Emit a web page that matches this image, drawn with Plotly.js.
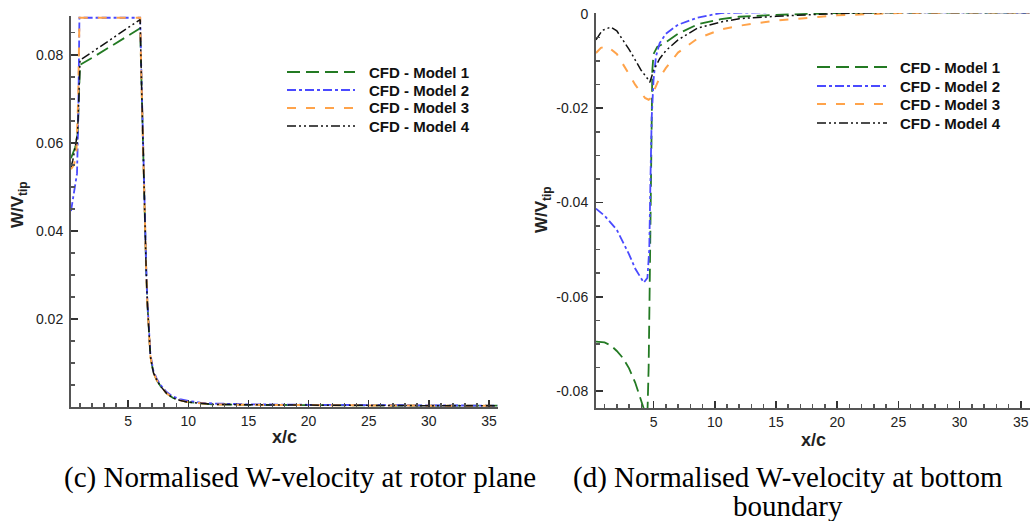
<!DOCTYPE html>
<html><head><meta charset="utf-8">
<script src="https://cdn.plot.ly/plotly-3.0.1.min.js"></script>
<style>html,body{margin:0;padding:0;background:#fff}#chart{width:1030px;height:521px}</style>
</head><body><div id="chart"></div><script>
// ---------- Data: (c) rotor plane ----------
const seriesNames = ["CFD - Model 1", "CFD - Model 2", "CFD - Model 3", "CFD - Model 4"];

const rotX_m1 = [0.25,0.4,0.6,0.8,0.9,1.0,2,3,4,5,6.0,6.1,6.2,6.3,6.4,6.5,6.6,6.7,6.85,7.1,7.4,7.7,8.2,8.7,9.3,10,11,12,15,20,25,30,35.7];
const rotY_m1 = [0.0565,0.0575,0.059,0.062,0.070,0.0777,0.0793,0.0810,0.0826,0.0843,0.0860,0.075,0.062,0.050,0.040,0.031,0.0235,0.0175,0.0115,0.0078,0.0060,0.0047,0.0031,0.0021,0.0015,0.0011,0.0008,0.0006,0.0005,0.0004,0.0004,0.0003,0.0003];

const rotX_m2 = [0.25,0.4,0.6,0.75,0.85,0.95,2,3,4,5,6.0,6.1,6.2,6.3,6.4,6.5,6.6,6.7,6.85,7.1,7.4,7.7,8.2,8.7,9.3,10,11,12,15,20,25,30,35.7];
const rotY_m2 = [0.0445,0.047,0.050,0.053,0.065,0.0884,0.0884,0.0884,0.0884,0.0884,0.0884,0.076,0.063,0.051,0.041,0.032,0.024,0.018,0.012,0.0082,0.0063,0.0050,0.0034,0.0024,0.0018,0.0014,0.0010,0.0008,0.0006,0.0005,0.0004,0.0004,0.0003];

const rotX_m3 = [0.25,0.5,0.7,0.85,0.95,2,3,4,5,6.0,6.1,6.2,6.3,6.4,6.5,6.6,6.7,6.85,7.1,7.4,7.7,8.2,8.7,9.3,10,11,12,15,20,25,30,35.7];
const rotY_m3 = [0.054,0.055,0.058,0.070,0.0884,0.0884,0.0884,0.0884,0.0884,0.0884,0.075,0.062,0.050,0.040,0.031,0.0235,0.0175,0.0115,0.0078,0.0060,0.0047,0.0031,0.0021,0.0015,0.0011,0.0008,0.0006,0.0005,0.0004,0.0004,0.0003,0.0003];

const rotX_m4 = [0.25,0.4,0.6,0.8,0.9,1.0,2,3,4,5,6.0,6.1,6.2,6.3,6.4,6.5,6.6,6.7,6.85,7.1,7.4,7.7,8.2,8.7,9.3,10,11,12,15,20,25,30,35.7];
const rotY_m4 = [0.0545,0.056,0.059,0.0625,0.070,0.0788,0.0806,0.0825,0.0843,0.0862,0.0880,0.075,0.062,0.050,0.040,0.031,0.0235,0.0175,0.0115,0.0078,0.0060,0.0047,0.0031,0.0021,0.0015,0.0011,0.0008,0.0006,0.0005,0.0004,0.0004,0.0003,0.0003];

// ---------- Data: (d) bottom boundary ----------
const botX_m1 = [0.3,1,1.5,2,2.5,3,3.5,4,4.3,4.5,4.6,4.7,4.8,4.9,5.0,5.3,5.6,6,7,8.6,10.5,12,15,20,25,30,35.7];
const botY_m1 = [-0.0695,-0.0697,-0.0703,-0.0715,-0.0730,-0.0752,-0.0782,-0.0822,-0.0845,-0.0850,-0.075,-0.055,-0.030,-0.012,-0.0085,-0.0070,-0.0066,-0.0060,-0.0042,-0.0022,-0.0011,-0.0006,-0.0002,0.0002,0.0003,0.0003,0.0003];

const botX_m2 = [0.3,1,2,3,3.5,4,4.2,4.5,4.65,4.75,4.85,5.0,5.2,5.5,6,7,8.6,10.5,12,15,20,25,30,35.7];
const botY_m2 = [-0.0413,-0.0428,-0.0458,-0.0510,-0.0540,-0.0562,-0.0570,-0.0560,-0.050,-0.035,-0.022,-0.014,-0.009,-0.0062,-0.0042,-0.0023,-0.0008,0.0002,0.0003,0.0004,0.0004,0.0004,0.0003,0.0003];

const botX_m3 = [0.3,0.7,1.2,2,3,3.5,4,4.3,4.6,4.8,5.0,5.5,6,7,8.6,10.5,12,15,20,25,30,35.7];
const botY_m3 = [-0.0083,-0.0072,-0.0068,-0.0085,-0.0128,-0.0150,-0.0168,-0.0178,-0.0182,-0.0178,-0.0165,-0.0135,-0.0115,-0.0082,-0.0052,-0.0033,-0.0025,-0.0014,-0.0003,0.0002,0.0003,0.0003];

const botX_m4 = [0.3,0.8,1.5,2,3,3.5,4,4.5,4.7,5.0,5.5,6,7,8.6,10.5,12,15,20,25,30,35.7];
const botY_m4 = [-0.0055,-0.0035,-0.0028,-0.0036,-0.0075,-0.0098,-0.0120,-0.0137,-0.0145,-0.0120,-0.0095,-0.0078,-0.0055,-0.0030,-0.0017,-0.0010,-0.0005,0.0001,0.0003,0.0003,0.0003];

// ---------- Tick labels ----------
const xTickVals = [5,10,15,20,25,30,35];
const xTickText = ["5","10","15","20","25","30","35"];
const yLeftTickVals = [0.02,0.04,0.06,0.08];
const yLeftTickText = ["0.02","0.04","0.06","0.08"];
const yRightTickVals = [0,-0.02,-0.04,-0.06,-0.08];
const yRightTickText = ["0","-0.02","-0.04","-0.06","-0.08"];

// ---------- Styles ----------
const styles = [
  {color:"#237a23", dash:"13px,6px", width:1.8},
  {color:"#4a4aff", dash:"9px,3px,3px,3px", width:1.8},
  {color:"#ffa34a", dash:"9px,10px", width:2},
  {color:"#111111", dash:"9px,3px,2px,3px,2px,3px", width:1.5}
];

const rotX = [rotX_m1, rotX_m2, rotX_m3, rotX_m4];
const rotY = [rotY_m1, rotY_m2, rotY_m3, rotY_m4];
const botX = [botX_m1, botX_m2, botX_m3, botX_m4];
const botY = [botY_m1, botY_m2, botY_m3, botY_m4];

const traces = [];
for (let i = 0; i < 4; i++) {
  traces.push({x: rotX[i], y: rotY[i], xaxis:"x", yaxis:"y", mode:"lines", name: seriesNames[i], showlegend:false,
    line:{color:styles[i].color, dash:styles[i].dash, width:styles[i].width}});
}
for (let i = 0; i < 4; i++) {
  traces.push({x: botX[i], y: botY[i], xaxis:"x2", yaxis:"y2", mode:"lines", name: seriesNames[i], showlegend:false,
    line:{color:styles[i].color, dash:styles[i].dash, width:styles[i].width}});
}

const W = 1030, H = 521;
const sans = "Liberation Sans, Arial, sans-serif";
const serif = "Liberation Serif, Times New Roman, serif";
const tickFont = {family:sans, size:14, color:"#222"};
const axisBase = {
  showgrid:false, zeroline:false, showline:true, linecolor:"#555", linewidth:2,
  ticks:"inside", ticklen:7, tickwidth:1.5, tickcolor:"#333", tickfont:tickFont,
  mirror:false
};

// Legend keys (drawn as paper-space samples next to the names)
const legendBoxes = [
  {lineX0:287, lineX1:355, textX:367, rows:[72, 90, 108, 126]},
  {lineX0:817, lineX1:887, textX:898, rows:[67, 86, 104, 123]}
];
const shapes = [];
const annotations = [];
legendBoxes.forEach(lb => {
  for (let i = 0; i < 4; i++) {
    shapes.push({type:"line", xref:"paper", yref:"paper",
      x0:lb.lineX0/W, x1:lb.lineX1/W, y0:1-lb.rows[i]/H, y1:1-lb.rows[i]/H,
      line:{color:styles[i].color, dash:styles[i].dash, width:styles[i].width}});
    annotations.push({text:"<b>"+seriesNames[i]+"</b>", xref:"paper", yref:"paper",
      x:lb.textX/W, y:1-lb.rows[i]/H, xanchor:"left", yanchor:"middle", showarrow:false,
      font:{family:sans, size:15, color:"#111"}});
  }
});

annotations.push(
  {text:"<b>x/c</b>", xref:"paper", yref:"paper", x:284/W, y:1-437/H, showarrow:false, xanchor:"center", yanchor:"middle",
   font:{family:sans, size:18, color:"#222"}},
  {text:"<b>x/c</b>", xref:"paper", yref:"paper", x:813/W, y:1-440/H, showarrow:false, xanchor:"center", yanchor:"middle",
   font:{family:sans, size:18, color:"#222"}},
  {text:"<b>W/V<sub>tip</sub></b>", xref:"paper", yref:"paper", x:19/W, y:1-205/H, showarrow:false, textangle:-90, xanchor:"center", yanchor:"middle",
   font:{family:sans, size:17, color:"#222"}},
  {text:"<b>W/V<sub>tip</sub></b>", xref:"paper", yref:"paper", x:543/W, y:1-210/H, showarrow:false, textangle:-90, xanchor:"center", yanchor:"middle",
   font:{family:sans, size:17, color:"#222"}},
  {text:"(c) Normalised W-velocity at rotor plane", xref:"paper", yref:"paper", x:300/W, y:1-477/H, showarrow:false, xanchor:"center", yanchor:"middle",
   font:{family:serif, size:29, color:"#000"}},
  {text:"(d) Normalised W-velocity at bottom", xref:"paper", yref:"paper", x:788/W, y:1-477/H, showarrow:false, xanchor:"center", yanchor:"middle",
   font:{family:serif, size:29, color:"#000"}},
  {text:"boundary", xref:"paper", yref:"paper", x:788/W, y:1-506/H, showarrow:false, xanchor:"center", yanchor:"middle",
   font:{family:serif, size:29, color:"#000"}}
);

const layout = {
  width: W, height: H,
  margin:{l:0, r:0, t:0, b:0},
  paper_bgcolor:"#fff", plot_bgcolor:"#fff",
  showlegend:false,
  xaxis: Object.assign({}, axisBase, {
    domain:[71/W, 498/W], range:[0.25, 35.75], anchor:"y",
    tickmode:"array", tickvals:xTickVals, ticktext:xTickText,
    minor:{ticks:"inside", ticklen:4, tickcolor:"#555", tickmode:"linear", tick0:0, dtick:1}
  }),
  yaxis: Object.assign({}, axisBase, {
    domain:[1-407/H, 1-16/H], range:[0, 0.0888], anchor:"x", ticklabelstandoff:3,
    tickmode:"array", tickvals:yLeftTickVals, ticktext:yLeftTickText,
    minor:{ticks:"inside", ticklen:4, tickcolor:"#555", tickmode:"linear", tick0:0, dtick:0.005}
  }),
  xaxis2: Object.assign({}, axisBase, {
    domain:[596/W, 1], range:[0.3, 35.75], anchor:"y2",
    tickmode:"array", tickvals:xTickVals, ticktext:xTickText,
    minor:{ticks:"inside", ticklen:4, tickcolor:"#555", tickmode:"linear", tick0:0, dtick:1}
  }),
  yaxis2: Object.assign({}, axisBase, {
    domain:[1-408/H, 1-13/H], range:[-0.0836, 0.0002], anchor:"x2", ticklabelstandoff:3,
    tickmode:"array", tickvals:yRightTickVals, ticktext:yRightTickText,
    minor:{ticks:"inside", ticklen:4, tickcolor:"#555", tickmode:"linear", tick0:0, dtick:0.005}
  }),
  shapes: shapes,
  annotations: annotations
};

Plotly.newPlot("chart", traces, layout, {staticPlot:true, displayModeBar:false});
</script></body></html>
